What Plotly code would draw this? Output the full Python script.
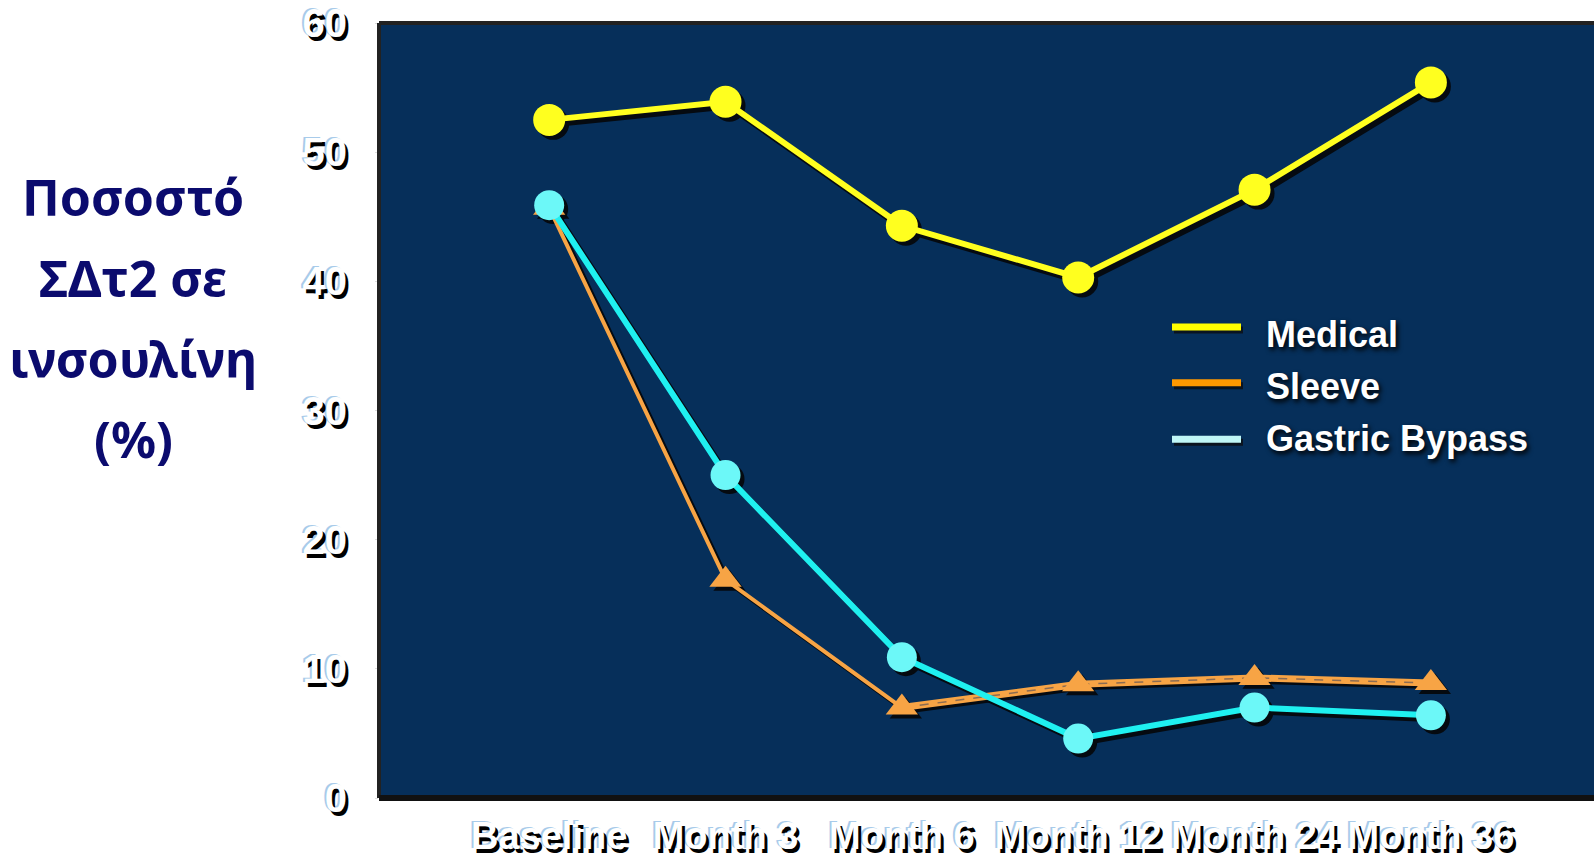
import plotly.graph_objects as go

# Categories and series (% of T2D patients on insulin)
categories = ["Baseline", "Month 3", "Month 6", "Month 12", "Month 24", "Month 36"]
medical = [52.5, 53.9, 44.3, 40.3, 47.1, 55.4]
sleeve = [45.7, 16.9, 7.0, 8.8, 9.3, 8.9]
bypass = [45.9, 25.0, 10.9, 4.6, 7.0, 6.4]
y_ticks = [0, 10, 20, 30, 40, 50, 60]
series_names = ["Medical", "Sleeve", "Gastric Bypass"]
title_lines = ["Ποσοστό", "ΣΔτ2 σε", "ινσουλίνη", "(%)"]

W, H = 1594, 857
ML, MR, MT, MB = 379, 0, 23, 54
X_RANGE = [-0.965, 5.925]
Y_RANGE = [0, 60]
plot_w = W - ML - MR
plot_h = H - MT - MB
px_x = (X_RANGE[1] - X_RANGE[0]) / plot_w
px_y = (Y_RANGE[1] - Y_RANGE[0]) / plot_h

xs = list(range(len(categories)))

BG = "#062f5a"
YELLOW = "#ffff1f"
ORANGE = "#f7a445"
CYAN_LINE = "#1ff0f0"
CYAN_MARK = "#6cf8f8"


def shifted(vals, d_px, axis):
    if axis == "x":
        return [v + d_px * px_x for v in vals]
    return [v - d_px * px_y for v in vals]


fig = go.Figure()

# drop shadows under each series
SH = 4
for vals, lw, sym, msize in [
    (sleeve, 4, "triangle-up", 28),
    (bypass, 6, "circle", 30),
    (medical, 7, "circle", 32),
]:
    fig.add_trace(go.Scatter(
        x=shifted(xs, SH, "x"), y=shifted(vals, SH, "y"),
        mode="lines+markers",
        line=dict(color="#050a10", width=lw),
        marker=dict(symbol=sym, size=msize, color="#050a10"),
        hoverinfo="skip", showlegend=False,
    ))

# Sleeve: thin solid line, then a wider banded line from Month 6 onward
fig.add_trace(go.Scatter(
    x=xs, y=sleeve, mode="lines", name="Sleeve",
    line=dict(color=ORANGE, width=4), showlegend=False,
))
fig.add_trace(go.Scatter(
    x=xs[2:], y=sleeve[2:], mode="lines",
    line=dict(color=ORANGE, width=7), hoverinfo="skip", showlegend=False,
))
fig.add_trace(go.Scatter(
    x=xs[2:], y=sleeve[2:], mode="lines",
    line=dict(color="#8c6c52", width=1.5, dash="dash"),
    hoverinfo="skip", showlegend=False,
))
fig.add_trace(go.Scatter(
    x=xs, y=sleeve, mode="markers",
    marker=dict(symbol="triangle-up", size=28, color=ORANGE),
    showlegend=False,
))

# Gastric bypass
fig.add_trace(go.Scatter(
    x=xs, y=bypass, mode="lines+markers", name="Gastric Bypass",
    line=dict(color=CYAN_LINE, width=6),
    marker=dict(symbol="circle", size=30, color=CYAN_MARK),
    showlegend=False,
))

# Medical
fig.add_trace(go.Scatter(
    x=xs, y=medical, mode="lines+markers", name="Medical",
    line=dict(color=YELLOW, width=6),
    marker=dict(symbol="circle", size=32, color=YELLOW),
    showlegend=False,
))

tick_shadow = "3px 4px 0px #000000, -2px -1px 0px #a8cbea"

fig.update_layout(
    width=W, height=H,
    margin=dict(l=ML, r=MR, t=MT, b=MB, pad=0),
    paper_bgcolor="white",
    plot_bgcolor=BG,
    font=dict(family="Liberation Sans, Arial, sans-serif"),
    xaxis=dict(
        range=X_RANGE, tickmode="array", tickvals=xs, ticktext=categories,
        showgrid=False, zeroline=False, showline=False, ticks="",
        tickfont=dict(size=38, color="white", weight="bold", shadow=tick_shadow),
        ticklabelstandoff=12,
    ),
    yaxis=dict(
        range=Y_RANGE, tickmode="array", tickvals=y_ticks,
        showgrid=False, zeroline=False, showline=False,
        ticks="outside", ticklen=3, tickcolor="#dddddd", tickwidth=1,
        tickfont=dict(size=40, color="white", weight="bold", shadow=tick_shadow),
        ticklabelstandoff=20,
    ),
)

# frame around the plotting area
fig.add_shape(type="line", xref="paper", yref="paper", x0=0, x1=1, y0=1, y1=1,
              line=dict(color="#222222", width=4))
fig.add_shape(type="line", xref="paper", yref="paper", x0=0, x1=0, y0=0, y1=1,
              line=dict(color="#222222", width=4))
fig.add_shape(type="line", xref="paper", yref="paper", x0=0, x1=1, y0=0, y1=0,
              line=dict(color="#111111", width=6))

# legend drawn inside the plot area
legend_colors = ["#ffff00", "#ff9900", "#bff7f7"]
swatch_y_px = [329, 385, 442]
text_y_px = [337, 389, 441]
sw_x0, sw_x1, txt_x = 1172, 1241, 1264
for name, col, sy, ty in zip(series_names, legend_colors, swatch_y_px, text_y_px):
    yp = (H - MB - sy) / plot_h
    yp_sh = (H - MB - sy - 3) / plot_h
    fig.add_shape(type="line", xref="paper", yref="paper",
                  x0=(sw_x0 + 2 - ML) / plot_w, x1=(sw_x1 + 2 - ML) / plot_w,
                  y0=yp_sh, y1=yp_sh, line=dict(color="#0a1420", width=7))
    fig.add_shape(type="line", xref="paper", yref="paper",
                  x0=(sw_x0 - ML) / plot_w, x1=(sw_x1 - ML) / plot_w,
                  y0=yp, y1=yp, line=dict(color=col, width=7))
    fig.add_annotation(
        xref="paper", yref="paper", x=(txt_x - ML) / plot_w, y=(H - MB - ty) / plot_h,
        text=name, showarrow=False, xanchor="left", yanchor="middle",
        font=dict(size=36, color="white", weight="bold",
                  family="Liberation Sans, Arial, sans-serif",
                  shadow="2px 3px 5px #000000"),
    )

# axis title, one annotation per line
title_y_px = [198, 280, 361, 442]
for line, ypx in zip(title_lines, title_y_px):
    fig.add_annotation(
        xref="paper", yref="paper", x=(133 - ML) / plot_w, y=(H - MB - ypx) / plot_h,
        text=line, showarrow=False, xanchor="center", yanchor="middle",
        font=dict(size=50, color="#0b0b6e", weight="bold",
                  family="Noto Sans, sans-serif"),
    )

fig.write_html("out.html")
